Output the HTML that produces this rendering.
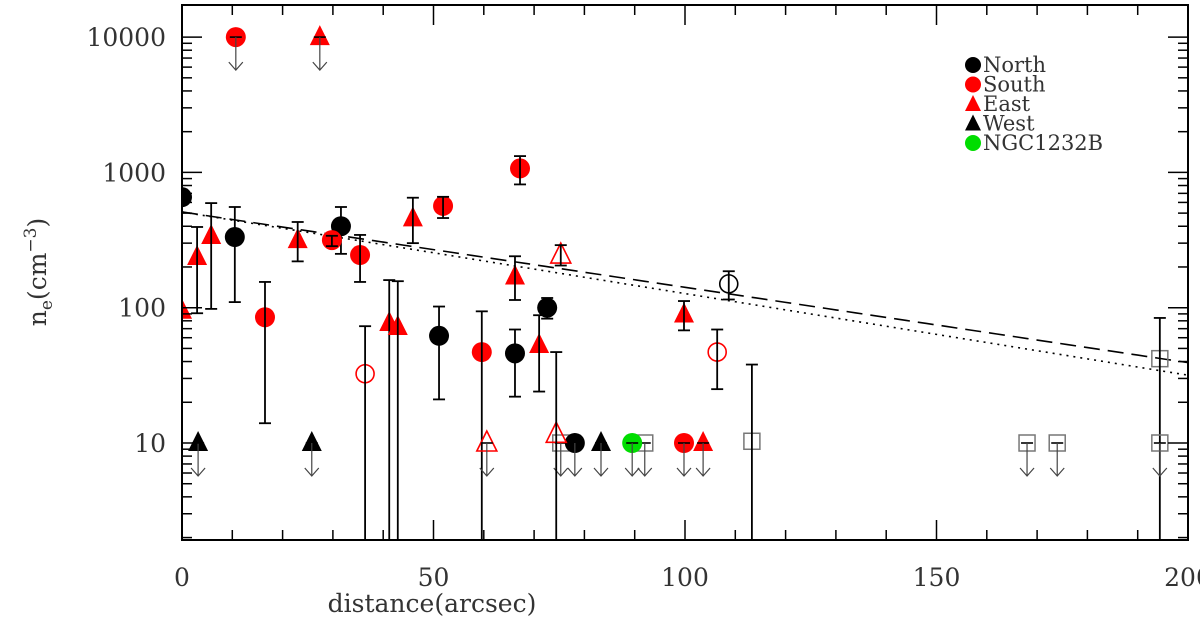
<!DOCTYPE html>
<html><head><meta charset="utf-8"><style>
body{margin:0;background:#fff}
svg{display:block}
text{font-family:"DejaVu Serif","Liberation Serif",serif;fill:#333}
</style></head><body>
<svg id="chart" width="1200" height="642" viewBox="0 0 1200 642" xmlns="http://www.w3.org/2000/svg">
<defs><clipPath id="clip"><rect x="182" y="5" width="1006" height="535"/></clipPath></defs>
<g id="marks" clip-path="url(#clip)"></g>
<g id="axes"></g>
<g id="legend"></g>
<text x="432" y="612" font-size="25" text-anchor="middle">distance(arcsec)</text>
<text transform="translate(46,272) rotate(-90)" font-size="25" text-anchor="middle">n<tspan font-size="17" dy="6">e</tspan><tspan dy="-6">(cm</tspan><tspan font-size="17" dy="-10">−3</tspan><tspan dy="10">)</tspan></text>
</svg>
<script>
const xTicks=[0,50,100,150,200];
const yTicks=[10,100,1000,10000];
const northX=[0,10.5,31.6,51.1,66.2,72.6,78.1];
const northY=[656,333,400,62,46,100,10];
const northLo=[null,110,250,21,22,83,null];
const northHi=[null,555,555,102,69,118,null];
const northLim=[0,0,0,0,0,0,1];
const southX=[10.7,16.5,29.8,35.4,51.9,59.6,67.2,99.8];
const southY=[10000,85,316,245,565,47,1070,10];
const southLo=[null,14,285,155,460,1,815,null];
const southHi=[null,155,340,345,660,94,1320,null];
const southLim=[1,0,0,0,0,0,0,1];
const eastX=[0,3,5.8,23,27.4,41.2,42.9,45.9,66.2,71,99.8,103.6];
const eastY=[95,237,339,316,10000,77,72,457,170,53,89,10];
const eastLo=[null,91,98,220,null,1,1,300,114,24,68,null];
const eastHi=[null,395,593,430,null,160,157,650,240,88,112,null];
const eastLim=[0,0,0,0,1,0,0,0,0,0,0,1];
const westX=[3.2,25.8,83.3];
const westY=[10,10,10];
const ngcX=[89.5];
const ngcY=[10];
const openCircX=[36.4,106.4];
const openCircY=[32.5,47];
const openCircLo=[1,25];
const openCircHi=[73,69];
const openTriX=[60.6,74.4,75.3];
const openTriY=[10,11.6,245];
const openTriLo=[null,1,205];
const openTriHi=[null,47,290];
const openTriLim=[1,0,0];
const openBlackX=[108.7];
const openBlackY=[150];
const openBlackLo=[115];
const openBlackHi=[186];
const sqX=[75.3,92,113.3,168,174,194.4,194.4];
const sqY=[10,10,10.3,10,10,42,10];
const sqLo=[null,null,1,null,null,1,null];
const sqHi=[null,null,38,null,null,84,null];
const sqLim=[1,1,0,1,1,0,1];
const fitAmp=[510,510];
const fitScale=[78,72];

const NS="http://www.w3.org/2000/svg";
const X0=182,X1=1188,Y10=443,DEC=135.3;
function sx(v){return X0+(X1-X0)*v/200;}
function sy(v){return Y10-(Math.log10(v)-1)*DEC;}
function mk(tag,attrs,parent){const e=document.createElementNS(NS,tag);for(const k in attrs)e.setAttribute(k,attrs[k]);parent.appendChild(e);return e;}
const marks=document.getElementById('marks'),axes=document.getElementById('axes'),legend=document.getElementById('legend');

for(let f=0;f<2;f++){
  let pts=[];for(let x=0;x<=200;x+=2)pts.push(sx(x)+','+sy(fitAmp[f]*Math.exp(-x/fitScale[f])));
  const l=mk('polyline',{points:pts.join(' '),fill:'none',stroke:'#000','stroke-width':1.6,'stroke-dasharray':f==0?'16,8':'2,5'},marks);
  
  
}
function errbar(x,lo,hi,name){
  if(lo==null)return;
  const g=mk('g',{},marks);
  
  
  const X=sx(x),a=sy(Math.max(lo,0.5)),b=sy(hi);
  mk('line',{x1:X,x2:X,y1:a,y2:b,stroke:'#000','stroke-width':1.8},g);
  mk('line',{x1:X-6,x2:X+6,y1:b,y2:b,stroke:'#000','stroke-width':1.8},g);
  if(lo>2)mk('line',{x1:X-6,x2:X+6,y1:a,y2:a,stroke:'#000','stroke-width':1.8},g);
}
function arrow(x,y,name){
  const g=mk('g',{},marks);
  
  
  const X=sx(x),Y=sy(y);
  mk('line',{x1:X-6,x2:X+6,y1:Y,y2:Y,stroke:'#000','stroke-width':1.6},g);
  mk('line',{x1:X,x2:X,y1:Y,y2:Y+33,stroke:'#444','stroke-width':1.2},g);
  mk('polyline',{points:(X-7)+','+(Y+25)+' '+X+','+(Y+33)+' '+(X+7)+','+(Y+25),fill:'none',stroke:'#444','stroke-width':1.2},g);
}
function marker(type,x,y,color,filled,name){
  const X=sx(x),Y=sy(y);let e;
  if(type=='c')e=mk('circle',{cx:X,cy:Y,r:filled?10:9,fill:filled?color:'none',stroke:color,'stroke-width':filled?0:1.6},marks);
  else if(type=='t')e=mk('polygon',{points:X+','+(Y-12)+' '+(X-10)+','+(Y+8)+' '+(X+10)+','+(Y+8),fill:filled?color:'none',stroke:color,'stroke-width':filled?0:1.6},marks);
  else e=mk('rect',{x:X-8,y:Y-8,width:16,height:16,fill:'none',stroke:color,'stroke-width':1.5},marks);
  
  
}
function series(X,Y,Lo,Hi,Lim,type,color,filled,name){
  for(let i=0;i<X.length;i++){
    marker(type,X[i],Y[i],color,filled,name+'-point');
    if(Lo)errbar(X[i],Lo[i],Hi[i],name);
    if(!Lim||Lim[i])arrow(X[i],Y[i],name);
  }
}
series(sqX,sqY,sqLo,sqHi,sqLim,'s','#777',false,'square');
series(northX,northY,northLo,northHi,northLim,'c','#000',true,'north');
series(southX,southY,southLo,southHi,southLim,'c','#f00',true,'south');
series(eastX,eastY,eastLo,eastHi,eastLim,'t','#f00',true,'east');
series(westX,westY,null,null,null,'t','#000',true,'west');
series(ngcX,ngcY,null,null,null,'c','#0d0',true,'ngc1232b');
series(openCircX,openCircY,openCircLo,openCircHi,[0,0],'c','#f00',false,'open-red-circle');
series(openTriX,openTriY,openTriLo,openTriHi,openTriLim,'t','#f00',false,'open-red-triangle');
series(openBlackX,openBlackY,openBlackLo,openBlackHi,[0],'c','#000',false,'open-black-circle');

const fr=mk('rect',{x:X0,y:5,width:X1-X0,height:535,fill:'none',stroke:'#000','stroke-width':2},axes);


for(let v=0;v<=200;v+=10){
  const L=v%50==0?20:10,X=sx(v);
  mk('line',{x1:X,x2:X,y1:540,y2:540-L,stroke:'#000','stroke-width':1.5},axes);
  mk('line',{x1:X,x2:X,y1:5,y2:5+L,stroke:'#000','stroke-width':1.5},axes);
}
xTicks.forEach(v=>{const t=mk('text',{x:sx(v),y:586,'font-size':25,'text-anchor':'middle'},axes);t.textContent=v;
  
  });
for(let d=0;d<5;d++)for(let m=1;m<10;m++){
  const v=Math.pow(10,d)*m;if(v<2||v>17000)continue;const Y=sy(v);const L=m==1?20:10;
  mk('line',{x1:X0,x2:X0+L,y1:Y,y2:Y,stroke:'#000','stroke-width':1.5},axes);
  mk('line',{x1:X1,x2:X1-L,y1:Y,y2:Y,stroke:'#000','stroke-width':1.5},axes);
}
yTicks.forEach(v=>{const t=mk('text',{x:166,y:sy(v)+9,'font-size':25,'text-anchor':'end'},axes);t.textContent=v;
  
  });

const legNames=['North','South','East','West','NGC1232B'];
const legType=['c','c','t','t','c'];
const legCol=['#000','#f00','#f00','#000','#0d0'];
legNames.forEach((n,i)=>{
  const g=mk('g',{},legend);
  
  
  const X=973,Y=65+19.5*i;
  if(legType[i]=='c')mk('circle',{cx:X,cy:Y,r:8,fill:legCol[i]},g);
  else mk('polygon',{points:X+','+(Y-9)+' '+(X-8)+','+(Y+7)+' '+(X+8)+','+(Y+7),fill:legCol[i]},g);
  const t=mk('text',{x:983,y:Y+7,'font-size':21},g);t.textContent=n;
});
</script>
</body></html>
